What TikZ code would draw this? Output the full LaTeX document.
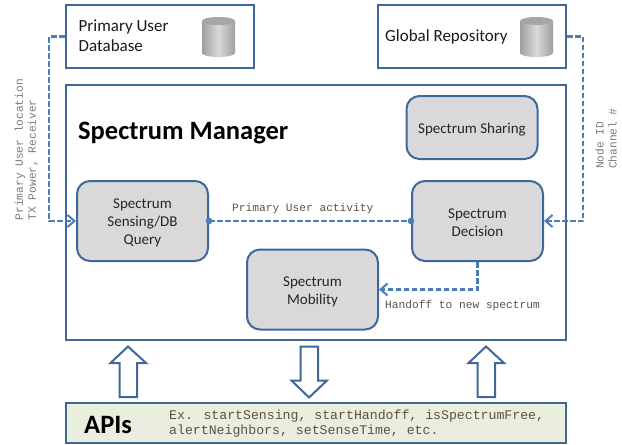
\documentclass[tikz,border=0pt]{standalone}
\usepackage{fontspec}
\setmainfont{Carlito}
\newfontfamily\monof{Liberation Mono}
\usetikzlibrary{arrows.meta}
\definecolor{edge}{HTML}{3F6797}
\definecolor{dashc}{HTML}{4A7EBB}
\definecolor{boxgray}{HTML}{D9D9D9}
\definecolor{apibg}{HTML}{EAEEDF}
\definecolor{labelg}{HTML}{7A7A7A}
\definecolor{labeld}{HTML}{5A5248}
\newcommand{\lowered}{\rule{0pt}{14pt}}
\tikzset{
  framebox/.style={draw=edge,line width=2pt,inner sep=0pt,minimum width=#1,minimum height=63pt},
  procbox/.style={draw=edge,line width=2pt,fill=boxgray,rounded corners=13pt,inner sep=0pt,minimum width=131pt,align=center,font=\fontsize{15}{18}\selectfont,text=black!85},
  link/.style={draw=dashc,line width=2.5pt,dash pattern=on 5.5pt off 2.5pt},
  barb/.style={-{Straight Barb[length=7pt,width=12pt,line width=2pt]}},
  blockarrow/.style={draw=edge,line width=2pt,fill=white,line join=miter},
  boxtext/.style={font=\fontsize{17}{20}\selectfont,text=black!90,align=left,inner sep=0pt},
  monolab/.style={font=\monof\fontsize{11.2}{13}\selectfont,text=labeld,inner sep=0pt},
  sidelab/.style={font=\monof\fontsize{11.2}{13}\selectfont,text=labelg,inner sep=0pt,rotate=90,align=left},
  cylside/.style={left color=gray!75,right color=gray!75,middle color=gray!30},
  cyltop/.style={fill=black!35},
  bigtext/.style={anchor=west,inner sep=0pt,font=\bfseries\fontsize{26.5}{30}\selectfont}
}
\newcommand{\cyl}[1]{%
  \path[cylside] (#1,21) -- (#1,53) arc[start angle=180,end angle=360,x radius=16.5pt,y radius=4pt] -- (#1+33,21) -- cycle;
  \fill[cyltop] (#1+16.5,21) ellipse[x radius=16.5pt,y radius=4pt];
}
\begin{document}
\begin{tikzpicture}[x=1pt,y=-1pt]
\useasboundingbox (0,0) rectangle (622,445);
% frames
\node[framebox=188pt] (pudb) at (159.5,36.5) {};
\node[framebox=188pt] (repo) at (472,36.5) {};
\node[draw=edge,line width=2pt,inner sep=0pt,minimum width=500.5pt,minimum height=255pt] (mgr) at (315.75,212.5) {};
\node[draw=edge,line width=2pt,fill=apibg,inner sep=0pt,minimum width=500.5pt,minimum height=40pt] (api) at (315.75,423) {};
% cylinders
\cyl{202}
\cyl{520}
% frame texts
\node[boxtext,anchor=west] (putxt) at (78.5,35.5) {Primary User\\Database};
\node[boxtext,anchor=west] (repotxt) at (385,36.5) {Global Repository};
\node[bigtext] (mgrtxt) at (78,133.5) {Spectrum Manager};
\node[bigtext] (apitxt) at (84,425) {APIs};
\node[anchor=west,inner sep=0pt,align=left,font=\monof\fontsize{13.2}{15.5}\selectfont,text=labeld] (apidesc) at (169,423.5) {Ex. startSensing, startHandoff, isSpectrumFree,\\alertNeighbors, setSenseTime, etc.};
% process boxes
\node[procbox,minimum height=80pt] (sense) at (142.5,221) {\lowered Spectrum\\Sensing/DB\\Query};
\node[procbox,minimum height=63pt] (share) at (472,127.5) {\lowered Spectrum Sharing};
\node[procbox,minimum height=80pt] (decide) at (477.5,221) {\lowered Spectrum\\Decision};
\node[procbox,minimum height=80pt] (mobile) at (312.5,289.5) {\lowered Spectrum\\Mobility};
% connectors
\coordinate (lcol) at (49,36.5);
\coordinate (rcol) at (583,36.5);
\draw[link,barb] (pudb.west) -- (lcol) -- (lcol |- sense.west) -- (sense.west);
\draw[link,barb] (repo.east) -- (rcol) -- (rcol |- decide.east) -- (decide.east);
\draw[link] (sense.east) -- (decide.west);
\fill[dashc] (sense.east) circle[radius=3.3pt] (decide.west) circle[radius=3.3pt];
\draw[link,barb] (decide.south) -- (decide.south |- mobile.east) -- (mobile.east);
% labels
\node[sidelab,anchor=south west] (l1) at (38,220.5) {Primary User location\\TX Power, Receiver};
\node[sidelab,anchor=south west] (l2) at (617,169) {Node ID\\Channel \#};
\node[monolab,anchor=west] (l3) at (232,208.5) {Primary User activity};
\node[monolab,anchor=west] (l4) at (385,305.5) {Handoff to new spectrum};
% block arrows
\draw[blockarrow] (128,346.5) -- (146,363) -- (137,363) -- (137,397) -- (119.5,397) -- (119.5,363) -- (110.5,363) -- cycle;
\draw[blockarrow] (486,346.5) -- (504,363) -- (495,363) -- (495,397) -- (477.5,397) -- (477.5,363) -- (468.5,363) -- cycle;
\draw[blockarrow] (309,397.5) -- (291.5,380.5) -- (300.5,380.5) -- (300.5,346.5) -- (318,346.5) -- (318,380.5) -- (327,380.5) -- cycle;
\end{tikzpicture}
\end{document}
